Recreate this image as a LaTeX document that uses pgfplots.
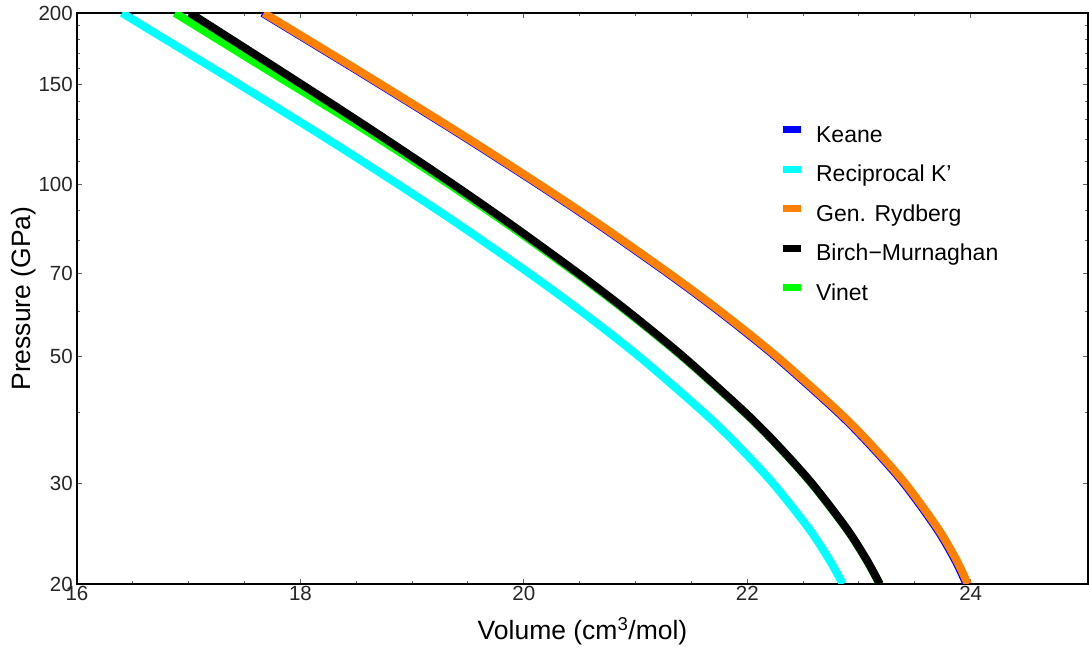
\documentclass[border=0pt]{standalone}
\usepackage{fontspec}
\setmainfont{Liberation Sans}
\usepackage{pgfplots}
\pgfplotsset{compat=1.18}
\definecolor{cCyan}{rgb}{0,1,1}
\definecolor{cOrange}{rgb}{1,0.5,0}
\definecolor{cGreen}{rgb}{0,1,0}
\definecolor{cBlue}{rgb}{0,0,1}
\begin{document}
\begin{tikzpicture}[x=1pt,y=1pt]
\useasboundingbox (0,0) rectangle (1089,648);
\begin{axis}[
  at={(77pt,64pt)}, anchor=south west,
  scale only axis, width=1011pt, height=571pt,
  xmin=16, xmax=25.05, ymin=20, ymax=200, ymode=log,
  xtick={16,18,20,22,24}, minor x tick num=3,
  ytick={20,30,50,70,100,150,200}, yticklabels={20,30,50,70,100,150,200},
  minor ytick={40,60,80,90,110,120,130,140,160,170,180,190},
  /pgf/number format/assume math mode=true,
  tick label style={font=\fontsize{20.5}{22}\selectfont, text=black!85},
  xticklabel style={anchor=north, inner sep=0pt, yshift=-2pt},
  yticklabel style={anchor=east, inner sep=0pt, xshift=-4pt},
  major tick length=5pt, minor tick length=3pt,
  every tick/.style={black!60, line width=1pt},
  axis line style={line width=1.2pt},
  xlabel={Volume (cm\textsuperscript{3}/mol)},
  ylabel={Pressure (GPa)},
  label style={font=\fontsize{26.5}{30}\selectfont},
  xlabel style={at={(axis description cs:0.5,-0.098)}, anchor=base},
  ylabel style={at={(axis description cs:-0.0464,0.5)}, anchor=base, rotate=0},
  legend style={at={(axis description cs:0.6943,0.802)}, anchor=north west,
    draw=none, fill=none, inner sep=0pt, row sep=18.5pt,
    nodes={inner sep=0pt, text height=15pt, text depth=5pt, font=\fontsize{23}{27}\selectfont},
    /tikz/every odd column/.append style={column sep=12pt}},
  legend cell align=left,
  legend image code/.code={\draw[line width=7pt] (0pt,7.5pt) -- (18pt,7.5pt);},
  clip=true,
]
% Keane (under Gen. Rydberg)
\addplot[cBlue, line width=8pt, smooth, forget plot] coordinates {
 (17.661,200) (18.046,180) (18.476,160) (18.957,140) (19.505,120) (20.134,100)
 (20.675,85) (21.289,70) (21.750,60) (22.255,50) (22.809,40) (23.101,35)
 (23.402,30) (23.696,25) (23.862,22) (23.962,20)};
% Reciprocal K'
\addplot[cCyan, line width=8pt, smooth, forget plot] coordinates {
 (16.403,200) (16.788,180) (17.218,160) (17.700,140) (18.250,120) (18.882,100)
 (19.427,85) (20.049,70) (20.517,60) (21.034,50) (21.606,40) (21.913,35)
 (22.231,30) (22.552,25) (22.738,22) (22.856,20)};
% Gen. Rydberg
\addplot[cOrange, line width=8pt, smooth, forget plot] coordinates {
 (17.673,200) (18.058,180) (18.488,160) (18.969,140) (19.517,120) (20.146,100)
 (20.687,85) (21.301,70) (21.762,60) (22.267,50) (22.821,40) (23.113,35)
 (23.414,30) (23.708,25) (23.874,22) (23.974,20)};
% Vinet
\addplot[cGreen, line width=8pt, smooth, forget plot] coordinates {
 (16.877,200) (17.257,180) (17.680,160) (18.166,140) (18.716,120) (19.338,100)
 (19.866,85) (20.469,70) (20.921,60) (21.419,50) (21.971,40) (22.268,35)
 (22.575,30) (22.887,25) (23.069,22) (23.184,20)};
% Birch-Murnaghan
\addplot[black, line width=8pt, smooth, forget plot] coordinates {
 (17.011,200) (17.378,180) (17.787,160) (18.247,140) (18.770,120) (19.374,100)
 (19.893,85) (20.487,70) (20.934,60) (21.428,50) (21.977,40) (22.272,35)
 (22.579,30) (22.890,25) (23.071,22) (23.186,20)};
\addlegendimage{cBlue}
\addlegendentry{Keane}
\addlegendimage{cCyan}
\addlegendentry{Reciprocal K'}
\addlegendimage{cOrange}
\addlegendentry{Gen. Rydberg}
\addlegendimage{black}
\addlegendentry{Birch−Murnaghan}
\addlegendimage{cGreen}
\addlegendentry{Vinet}
\end{axis}
\end{tikzpicture}
\end{document}
